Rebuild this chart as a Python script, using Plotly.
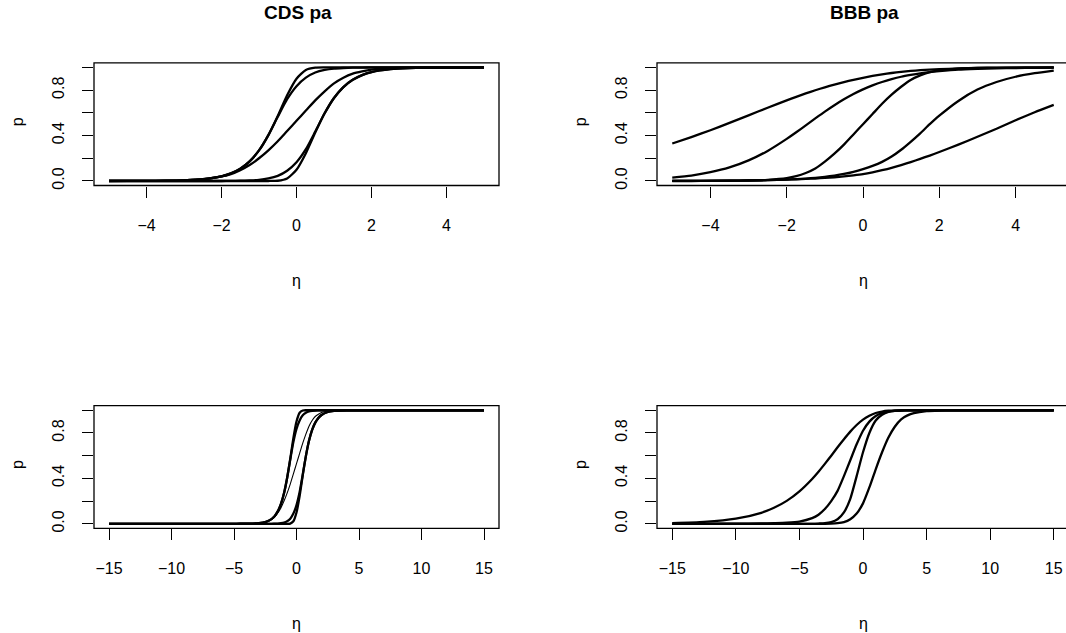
import plotly.graph_objects as go

# ---- data -------------------------------------------------------------
# linear predictor grid for the narrow (-5, 5) panels
eta_narrow = [-5, -4.5, -4, -3.5, -3, -2.5, -2, -1.75, -1.5, -1.25, -1, -0.75,
              -0.5, -0.25, 0, 0.25, 0.5, 0.75, 1, 1.25, 1.5, 1.75, 2, 2.5, 3,
              3.5, 4, 4.5, 5]

# CDS pa curves
cds_1 = [0.0001, 0.0003, 0.0008, 0.0021, 0.0057, 0.0155, 0.0415, 0.0675, 0.109,
         0.173, 0.269, 0.404, 0.573, 0.755, 0.901, 0.978, 0.998, 1, 1, 1, 1, 1,
         1, 1, 1, 1, 1, 1, 1]
cds_2 = [0.0001, 0.0003, 0.0008, 0.0021, 0.0057, 0.0155, 0.0415, 0.0675, 0.109,
         0.173, 0.269, 0.404, 0.565, 0.72, 0.835, 0.91, 0.955, 0.978, 0.99,
         0.995, 0.998, 0.999, 1, 1, 1, 1, 1, 1, 1]
cds_3 = [0, 0.0002, 0.0005, 0.0015, 0.005, 0.015, 0.04, 0.06, 0.095, 0.14, 0.2,
         0.27, 0.35, 0.44, 0.53, 0.62, 0.71, 0.79, 0.86, 0.91, 0.945, 0.965,
         0.98, 0.993, 0.998, 0.999, 1, 1, 1]
cds_4 = [0, 0, 0, 0, 0, 0, 0, 0.001, 0.002, 0.005, 0.01, 0.022, 0.045, 0.09,
         0.165, 0.28, 0.435, 0.596, 0.731, 0.827, 0.891, 0.9325, 0.9585, 0.9845,
         0.9943, 0.9979, 0.9992, 0.9997, 0.9999]
cds_5 = [0, 0, 0, 0, 0, 0, 0, 0, 0, 0, 0, 0, 0.002, 0.022, 0.099, 0.245, 0.427,
         0.596, 0.731, 0.827, 0.891, 0.9325, 0.9585, 0.9845, 0.9943, 0.9979,
         0.9992, 0.9997, 0.9999]

# BBB pa curves
bbb_1 = [0.33, 0.387, 0.447, 0.512, 0.578, 0.645, 0.71, 0.741, 0.771, 0.799,
         0.825, 0.849, 0.871, 0.891, 0.909, 0.925, 0.939, 0.951, 0.961, 0.969,
         0.976, 0.981, 0.985, 0.991, 0.995, 0.997, 0.998, 0.999, 0.9995]
bbb_2 = [0.03, 0.048, 0.077, 0.119, 0.181, 0.265, 0.371, 0.429, 0.49, 0.551,
         0.611, 0.667, 0.719, 0.766, 0.807, 0.842, 0.872, 0.897, 0.918, 0.934,
         0.948, 0.959, 0.967, 0.98, 0.987, 0.992, 0.995, 0.997, 0.998]
bbb_3 = [0, 0, 0.001, 0.002, 0.004, 0.01, 0.025, 0.042, 0.07, 0.11, 0.17, 0.24,
         0.32, 0.41, 0.5, 0.59, 0.68, 0.76, 0.83, 0.89, 0.93, 0.958, 0.975,
         0.99, 0.996, 0.998, 0.999, 1, 1]
bbb_4 = [0.0005, 0.001, 0.0015, 0.0025, 0.004, 0.007, 0.012, 0.016, 0.021,
         0.028, 0.037, 0.048, 0.062, 0.081, 0.105, 0.133, 0.168, 0.215, 0.275,
         0.345, 0.42, 0.5, 0.575, 0.705, 0.805, 0.872, 0.918, 0.949, 0.972]
bbb_5 = [0.001, 0.0015, 0.002, 0.003, 0.005, 0.008, 0.012, 0.015, 0.018, 0.022,
         0.027, 0.033, 0.04, 0.049, 0.06, 0.076, 0.095, 0.116, 0.14, 0.166,
         0.195, 0.224, 0.255, 0.32, 0.39, 0.46, 0.535, 0.605, 0.67]

# wide (-15, 15) panels: tails beyond the narrow grid
eta_left_tail = [-15, -10]
eta_right_tail = [10, 15]

# BBB pa curves on the wide grid
eta_wide = [-15, -12.5, -10, -8, -7, -6, -5, -4, -3.5, -3, -2.5, -2, -1.5, -1,
            -0.5, 0, 0.5, 1, 1.5, 2, 2.5, 3, 3.5, 4, 5, 6, 7, 8, 10, 12.5, 15]
bbbw_1 = [0.006, 0.017, 0.045, 0.097, 0.141, 0.202, 0.286, 0.395, 0.459, 0.528,
          0.6, 0.674, 0.745, 0.812, 0.87, 0.917, 0.952, 0.976, 0.989, 0.996,
          0.9989, 0.9997, 1, 1, 1, 1, 1, 1, 1, 1, 1]
bbbw_2 = [0, 0, 0.001, 0.003, 0.006, 0.01, 0.02, 0.05, 0.08, 0.13, 0.2, 0.29,
          0.42, 0.56, 0.7, 0.82, 0.9, 0.95, 0.975, 0.988, 0.995, 0.998, 0.999,
          1, 1, 1, 1, 1, 1, 1, 1]
bbbw_3 = [0, 0, 0, 0, 0, 0, 0, 0, 0.002, 0.005, 0.015, 0.04, 0.1, 0.22, 0.42,
          0.63, 0.8, 0.91, 0.96, 0.985, 0.994, 0.998, 0.999, 1, 1, 1, 1, 1, 1,
          1, 1]
bbbw_4 = [0, 0, 0, 0, 0, 0, 0, 0, 0, 0, 0.001, 0.005, 0.015, 0.04, 0.09, 0.18,
          0.32, 0.48, 0.63, 0.76, 0.855, 0.92, 0.955, 0.975, 0.993, 0.998,
          0.9995, 1, 1, 1, 1]

p_ticks = [0, 0.2, 0.4, 0.6, 0.8, 1.0]
p_ticktext = ["0.0", "", "0.4", "", "0.8", ""]
x_ticks_narrow = [-4, -2, 0, 2, 4]
x_ticks_wide = [-15, -10, -5, 0, 5, 10, 15]

# ---- layout geometry (pixels of a 1066 x 633 page) ---------------------
W, H = 1066, 633
FONT = "Liberation Sans, Arial, Helvetica, sans-serif"
LINE_W = 2.3

panels = {
    # name: (x0, x1, y_top, y_bottom) of the plotting frame
    "tl": (94, 499, 63.3, 186.7),
    "tr": (657, 1069, 63.3, 186.7),
    "bl": (94, 499, 408.3, 531.7),
    "br": (657, 1069, 408.3, 531.7),
}


def px(x):
    return x / W


def py(y):
    return 1 - y / H


fig = go.Figure()


def add_curves(xref, yref, x, curves, widths=None):
    for i, c in enumerate(curves):
        w = LINE_W if widths is None else widths[i]
        fig.add_trace(go.Scatter(
            x=x, y=c, mode="lines", xaxis=xref, yaxis=yref,
            line=dict(color="black", width=w, shape="spline", smoothing=0.6),
            showlegend=False, hoverinfo="skip"))


cds_curves = [cds_1, cds_2, cds_3, cds_4, cds_5]
bbb_curves = [bbb_1, bbb_2, bbb_3, bbb_4, bbb_5]

add_curves("x", "y", eta_narrow, cds_curves)
add_curves("x2", "y2", eta_narrow, bbb_curves)

eta_cds_wide = eta_left_tail + eta_narrow + eta_right_tail
cds_wide = [[c[0], c[0]] + c + [c[-1], c[-1]] for c in cds_curves]
add_curves("x3", "y3", eta_cds_wide, cds_wide,
           widths=[LINE_W, LINE_W, 1.1, LINE_W, LINE_W])
add_curves("x4", "y4", eta_wide, [bbbw_1, bbbw_2, bbbw_3, bbbw_4])

axis_common = dict(ticks="outside", ticklen=11, tickwidth=1, tickcolor="black",
                   showgrid=False, zeroline=False, showline=False,
                   tickfont=dict(family=FONT, size=16, color="black"))


def x_axis(name, rng, ticks):
    x0, x1, yt, yb = panels[name]
    d1 = min(1.0, px(x1))
    # keep the data scale when the frame runs past the page edge
    full = rng[1] - rng[0]
    hi = rng[0] + full * (d1 - px(x0)) / (px(x1) - px(x0))
    return dict(domain=[px(x0), d1], range=[rng[0], hi], tickvals=ticks,
                ticklabelstandoff=14, **axis_common)


def y_axis(name):
    x0, x1, yt, yb = panels[name]
    return dict(domain=[py(yb), py(yt)], range=[-0.04, 1.04], tickvals=p_ticks,
                ticktext=p_ticktext, tickangle=-90, ticklabelstandoff=12,
                **axis_common)


fig.update_layout(
    width=W, height=H, margin=dict(l=0, r=0, t=0, b=0),
    paper_bgcolor="white", plot_bgcolor="white",
    xaxis=dict(anchor="y", **x_axis("tl", [-5.4, 5.4], x_ticks_narrow)),
    yaxis=dict(anchor="x", **y_axis("tl")),
    xaxis2=dict(anchor="y2", **x_axis("tr", [-5.4, 5.4], x_ticks_narrow)),
    yaxis2=dict(anchor="x2", **y_axis("tr")),
    xaxis3=dict(anchor="y3", **x_axis("bl", [-16.2, 16.2], x_ticks_wide)),
    yaxis3=dict(anchor="x3", **y_axis("bl")),
    xaxis4=dict(anchor="y4", **x_axis("br", [-16.2, 16.2], x_ticks_wide)),
    yaxis4=dict(anchor="x4", **y_axis("br")),
)

shapes = []
annotations = []
for name, (x0, x1, yt, yb) in panels.items():
    shapes.append(dict(type="rect", xref="paper", yref="paper",
                       x0=px(x0), x1=px(x1), y0=py(yb), y1=py(yt),
                       line=dict(color="black", width=1.3)))
    cx = (x0 + x1) / 2
    cy = (yt + yb) / 2
    annotations.append(dict(text="η", x=px(cx), y=py(yb + 96), xref="paper",
                            yref="paper", showarrow=False, xanchor="center",
                            yanchor="middle",
                            font=dict(family=FONT, size=16, color="black")))
    annotations.append(dict(text="p", x=px(x0 - 77), y=py(cy - 2), xref="paper",
                            yref="paper", showarrow=False, xanchor="center",
                            yanchor="middle", textangle=-90,
                            font=dict(family=FONT, size=16, color="black")))

for text, cx in [("CDS pa", 298), ("BBB pa", 864)]:
    annotations.append(dict(text="<b>%s</b>" % text, x=px(cx), y=py(13),
                            xref="paper", yref="paper", showarrow=False,
                            xanchor="center", yanchor="middle",
                            font=dict(family=FONT, size=19, color="black")))

fig.update_layout(shapes=shapes, annotations=annotations)
fig.write_html("out.html")
